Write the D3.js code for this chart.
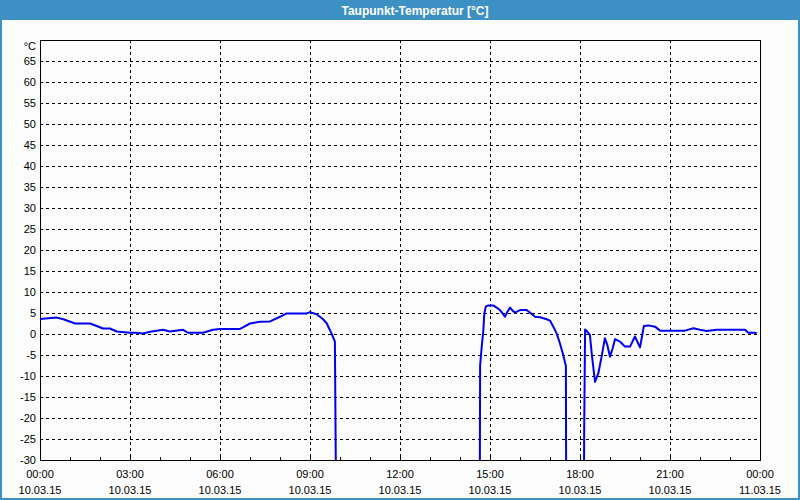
<!DOCTYPE html>
<html>
<head>
<meta charset="utf-8">
<script src="https://cdn.jsdelivr.net/npm/d3@7"></script>
<style>
  body { margin: 0; background: #fbfcfb; }
  svg { display: block; }
</style>
</head>
<body>
<svg id="chart"></svg>
<script>
// hours since 10.03.15 00:00, dew point in °C; null breaks the line,
// values below -30 are the sensor drop-outs that run off the bottom
const hours = [
  0.00, 0.56, 0.78, 1.17, 1.67, 1.89, 2.10, 2.33, 2.56, 3.00, 3.22, 3.43, 3.67, 4.10, 4.33, 4.77, 4.93,
  5.43, 5.77, 6.00, 6.67, 7.00, 7.33, 7.67, 8.00, 8.22, 8.89, 9.00, 9.22, 9.44, 9.56, 9.72, 9.83, 9.87,
  12.00,
  14.66, 14.67, 14.70, 14.74, 14.78, 14.81, 14.86, 14.94, 15.11, 15.22, 15.33, 15.42, 15.50, 15.58, 15.67,
  15.76, 15.83, 16.00, 16.22, 16.33, 16.50, 16.67, 16.89, 17.00, 17.11, 17.22, 17.33, 17.44, 17.53, 17.54,
  17.80,
  18.13, 18.14, 18.17, 18.24, 18.33, 18.39, 18.50, 18.61, 18.72, 18.83, 18.91, 19.00, 19.09, 19.17, 19.33,
  19.50, 19.67, 19.83, 20.00, 20.13, 20.28, 20.50, 20.67, 21.50, 21.78, 22.00, 22.22, 22.56, 23.50, 23.61,
  23.83, 23.89
];
const dewPoint = [
  3.6, 3.9, 3.5, 2.5, 2.5, 1.9, 1.3, 1.3, 0.6, 0.3, 0.3, 0.1, 0.55, 1.0, 0.6, 1.0, 0.3,
  0.3, 1.0, 1.2, 1.2, 2.5, 2.9, 3.0, 4.1, 4.9, 4.9, 5.2, 4.7, 3.5, 2.5, 0.1, -1.8, -40,
  null,
  -40, -7.6, -5.0, -1.8, 1.0, 4.9, 6.5, 6.8, 6.8, 6.3, 5.7, 4.9, 4.1, 5.3, 6.3,
  5.5, 5.1, 5.7, 5.7, 5.1, 4.1, 4.0, 3.5, 3.2, 1.75, 0.15, -2.2, -5.0, -7.6, -40,
  null,
  -40, -22.5, 1.1, 0.55, -0.2, -4.6, -11.4, -9.4, -5.4, -1.0, -2.6, -5.4, -3.4, -1.2, -1.8,
  -3.0, -3.0, -0.6, -3.2, 1.9, 2.05, 1.75, 0.8, 0.8, 1.35, 1.0, 0.7, 1.0, 1.0, 0.3,
  0.3, 0.15
];
const yTicks = [-30, -25, -20, -15, -10, -5, 0, 5, 10, 15, 20, 25, 30, 35, 40, 45, 50, 55, 60, 65];
const xLabelHours = [0, 3, 6, 9, 12, 15, 18, 21, 24];
const xDates = ['10.03.15', '10.03.15', '10.03.15', '10.03.15', '10.03.15', '10.03.15', '10.03.15', '10.03.15', '11.03.15'];
const titleText = 'Taupunkt-Temperatur [°C]';

const W = 800, H = 500;
const margin = {top: 40, right: 40, bottom: 40, left: 40};
const blue = '#3c90c4';
const font = '"Liberation Sans", Arial, sans-serif';

const svg = d3.select('#chart').attr('width', W).attr('height', H);

// window frame + title bar
svg.append('rect').attr('width', W).attr('height', H).attr('fill', blue);
svg.append('rect').attr('x', 2).attr('y', 20).attr('width', W - 4).attr('height', H - 22).attr('fill', '#fbfcfb');
svg.append('text')
  .attr('x', 415).attr('y', 15)
  .attr('text-anchor', 'middle')
  .attr('font-family', font).attr('font-size', 12).attr('font-weight', 'bold')
  .attr('fill', 'white')
  .text(titleText);

const x = d3.scaleLinear().domain([0, 24]).range([margin.left, W - margin.right]);
const y = d3.scaleLinear().domain([-30, 70]).range([H - margin.bottom, margin.top]);

// dashed grid
svg.append('g').selectAll('line')
  .data(yTicks.filter(d => d > -30))
  .enter().append('line')
  .attr('x1', x(0)).attr('x2', x(24))
  .attr('y1', d => Math.round(y(d)) + 0.5).attr('y2', d => Math.round(y(d)) + 0.5)
  .attr('stroke', 'black').attr('stroke-dasharray', '3,3');

svg.append('g').selectAll('line')
  .data(xLabelHours.filter(d => d > 0 && d < 24))
  .enter().append('line')
  .attr('x1', d => Math.round(x(d)) + 0.5).attr('x2', d => Math.round(x(d)) + 0.5)
  .attr('y1', y(70)).attr('y2', y(-30))
  .attr('stroke', 'black').attr('stroke-dasharray', '3,3');

// hourly ticks pointing into the plot
svg.append('g').selectAll('line')
  .data(d3.range(1, 24))
  .enter().append('line')
  .attr('x1', d => Math.round(x(d)) + 0.5).attr('x2', d => Math.round(x(d)) + 0.5)
  .attr('y1', y(-30)).attr('y2', y(-30) - 3)
  .attr('stroke', 'black');

// frame of the plot
svg.append('rect')
  .attr('x', x(0) + 0.5).attr('y', y(70) + 0.5)
  .attr('width', x(24) - x(0)).attr('height', y(-30) - y(70))
  .attr('fill', 'none').attr('stroke', 'black');

// y labels
svg.append('g').selectAll('text')
  .data(yTicks)
  .enter().append('text')
  .attr('x', 36).attr('y', d => y(d) + 4)
  .attr('text-anchor', 'end')
  .attr('font-family', font).attr('font-size', 11)
  .attr('fill', 'black')
  .text(d => d);
svg.append('text')
  .attr('x', 36).attr('y', 50)
  .attr('text-anchor', 'end')
  .attr('font-family', font).attr('font-size', 11)
  .text('°C');

// x labels: time + date
const xl = svg.append('g').selectAll('g')
  .data(xLabelHours)
  .enter().append('g');
xl.append('text')
  .attr('x', d => x(d)).attr('y', 478)
  .attr('text-anchor', 'middle')
  .attr('font-family', font).attr('font-size', 11)
  .text(d => d3.format('02')(d % 24) + ':00');
xl.append('text')
  .attr('x', d => x(d)).attr('y', 494)
  .attr('text-anchor', 'middle')
  .attr('font-family', font).attr('font-size', 11)
  .text((d, i) => xDates[i]);

// the series, clipped to the plot
svg.append('clipPath').attr('id', 'plotclip')
  .append('rect')
  .attr('x', x(0)).attr('y', y(70))
  .attr('width', x(24) - x(0)).attr('height', y(-30) - y(70));

const points = hours.map((h, i) => ({h: h, v: dewPoint[i]}));
const line = d3.line()
  .defined(d => d.v !== null)
  .x(d => x(d.h))
  .y(d => y(d.v));

svg.append('path')
  .datum(points)
  .attr('clip-path', 'url(#plotclip)')
  .attr('fill', 'none')
  .attr('stroke', '#0000ee')
  .attr('stroke-width', 2)
  .attr('stroke-linejoin', 'round')
  .attr('d', line);
</script>
</body>
</html>
